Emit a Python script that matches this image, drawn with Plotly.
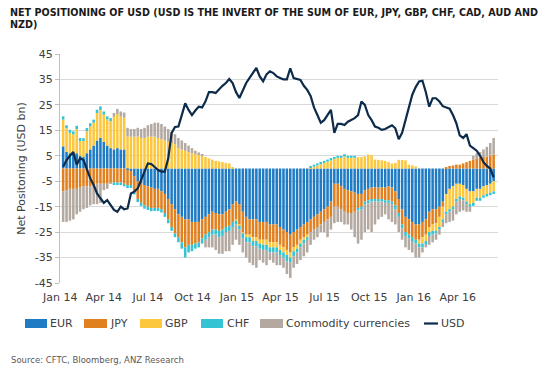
import pandas as pd
import plotly.graph_objects as go

# ---------------- data (weekly, USD bn) ----------------
WEEKS = pd.date_range("2014-01-07", periods=128, freq="7D")

EUR = [8.7, 6.5, 6, 5.5, 6, 5, 4.5, 6, 7.5, 9, 11, 12, 10.5, 9, 8, 7.5, 8, 7.5, 7.5,
       -0.5, -1, -3, -5, -6, -6.5, -7, -7.5, -8, -8, -9, -10, -12, -14, -16,
       -18, -19, -20, -20, -21, -21, -21, -20, -19, -18, -17, -17.5, -18, -18, -17, -16, -14, -13,
       -14, -17, -19, -20, -20, -20, -21, -21, -21, -22, -22, -22,
       -23, -24, -25, -26, -25, -24, -23, -22, -21, -20, -19, -18, -17, -16, -15, -13, -6, -6, -7, -8, -8.5, -9, -9.5,
       -10, -10, -8.5, -8, -7.5, -7.5, -7.5, -7.5, -7.5, -7, -7.5, -9, -12, -16, -19, -20, -21, -22, -22, -21, -20,
       -17, -16, -16, -15, -13, -10, -8, -7, -6, -6, -6.5, -8, -9, -9, -8, -8, -7, -6.5, -6, -5]

JPY = [-9, -8.5, -8, -8, -8, -7.5, -7, -7, -7, -6.5, -6, -6, -6, -6, -5.5, -5.5, -5.5, -5.5, -6,
       -6, -5.5, -6, -7, -7.5, -8, -8, -8, -7.5, -7.5, -7, -7.5, -8, -9, -9.5,
       -9, -10, -11, -10, -9, -8.5, -8, -7.5, -7, -7, -7, -6.5, -6.5, -6, -6, -6.5, -7, -7,
       -8, -8, -7, -6, -7, -7, -7, -7, -7, -7, -7, -7,
       -7, -7, -7, -7, -6, -6, -5, -5, -5, -5, -5, -5, -5, -5, -5, -6, -9, -9, -9, -9, -9, -8.5, -7.5,
       -5.5, -5, -4.5, -4.5, -4.5, -4.5, -4.5, -4.5, -5, -5.5, -5.5, -5.5, -5.5, -6, -6, -6, -6, -6, -6, -6, -6,
       -6, -6, -5.5, -4, -2, 0.5, 1, 1.2, 1.5, 1.5, 2, 2.5, 3, 3.5, 4, 4.2, 4.5, 4.7, 5, 5.5]

GBP = [10.5, 9.3, 8, 7.9, 9.5, 5.8, 6.3, 8.7, 9, 9, 10.8, 11, 10.7, 10.3, 10.6, 12.8, 13.4, 12.9, 12.5,
       12.5, 12.5, 12.5, 12.5, 12, 12, 12.5, 12.5, 12.5, 12, 11.5, 11, 10.5, 10, 9.5,
       8, 7.5, 7, 6.5, 6, 5.5, 5.3, 5, 4.5, 4, 3.5, 3, 2.8, 2.5, 2.2, 2, 0.5, -0.5,
       -0.5, -0.5, -1, -1, -1.5, -1.5, -1.5, -2, -2, -2, -2, -2,
       -2, -2, -2, -2, -1.5, -1.5, -1.5, -1, -1, 0.2, 0.7, 1.2, 1.7, 2.2, 2.7, 3.2, 3.7, 4.2, 4.2, 4.7, 4.2, 4.2, 4.2,
       4.5, 4.5, 4.8, 5.5, 5.2, 3.5, 3.4, 3.2, 3, 2.5, 2, 2.2, 3.4, 3.4, 3.2, 1.5, 1.2, 0.8, -1.5, -2.5, -2.5,
       -2, -2.5, -3, -4, -5, -7, -8, -8, -6, -5, -5, -5, -5, -4.5, -3.5, -3.5, -3.5, -3.5, -3.5, -4]

CHF = [1.3, 1.2, 1.2, 1.2, 1.3, 1.2, 1.1, 1.2, 1.3, 1.2, 1.3, 1.4, 1.2, 1.2, 1.2,
       -1, -1, -1, -1,
       -1.2, -1.2, -1.2, -1.2, -1.2, -1.3, -1.3, -1.3, -1.2, -1.2, -1.3, -1.5, -1.5, -1.5, -1.5,
       -2, -2.5, -4, -3, -2.5, -2, -2, -2, -2, -2, -2, -2, -2.5, -2.5, -2, -2, -2, -1.5,
       -1.5, -2, -2, -2, -2, -2, -2, -2, -2, -2, -2, -2,
       -2, -2, -2.5, -2, -2, -1.5, -1.5, -1.5, -1,
       0.8, 0.8, 0.8, 0.9, 0.8, 0.8, 0.9, 0.8, 0.8, 0.8, 0.9, 0.8, 0.8, 0.8,
       -1, -1, -1.2, -1.2, -1, -1, -1, -1, -1, -1, -1,
       -1.5, -1.5, -1.5, -1.5, -1.5, -1.5, -1.5, -1.5, -1.5, -1.5,
       -1.5, -1.5, -1, -1, -1, -1, -1, -1, -1, -1, -1, -1, -1, -1.2, -1.2, -1.2, -1, -1, -1, -1]

COMMODITY = [-12, -12.5, -12.5, -12, -10, -9.5, -9, -8.5, -7.5, -7.5, -8, -7.5, -2.5, -2, -0.5, 1.5, 2, 2, 2,
             3.5, 3, 3, 3.5, 3.5, 4, 4.5, 5, 5.5, 6, 6, 5.5, 5, 4.5, 4,
             4, 3.5, 3, 2.5, 2, 1.5, 1, 0.5, -3, -4, -5, -6, -6.5, -7, -7.5, -8, -7, -6,
             -6, -5.5, -6, -8, -7.5, -8.5, -4.5, -5, -6, -3, -4, -5,
             -4, -4, -5, -6, -4.5, -4.5, -5, -5, -5, -5, -4, -4, -3, -4, -7, -5, -6.5, -6, -5, -5, -4.5, -6.5, -10,
             -13, -12, -10.8, -10.3, -12, -9, -7, -6, -4.5, -6.5, -7, -6, -6, -4.5, -4.5, -4.5, -4.5, -5.5, -4, -2, -1,
             -3.5, -3, -2.5, -2, -2, -3.5, -4, -4.5, -5, -5, -4, -3, -2, 1.5, 2, 2.3, 3, 3.8, 5, 6.5]

USD = [0.7, 3.3, 5, 6.5, 1.5, 4, 3.3, -0.6, -3.9, -6.5, -9.8, -11.7, -13.5, -12.4, -14.4, -16.3, -17, -15, -16,
       -15.7, -9.8, -9.1, -7.8, -4.5, -0.6, 2, 1.8, 0.7, -0.6, -1.2, -1.2, 4, 14, 16.3, 16.5, 21, 25.6, 23, 21,
       22.8, 24.3,
       24, 26.4, 30, 30, 29.7, 31.2, 32.5, 33.6, 35.2, 33.6, 30, 27.7, 31, 33.6, 35.6, 37.5, 39.5, 36.2, 34.3,
       37, 38.2, 37.5, 36.2, 35.6,
       35, 35, 39.4, 35.5, 35, 34.8, 32.5, 30.9, 28.5, 24, 21, 18, 19, 21, 23, 14, 17.5, 17.5, 17.1, 18.4,
       19.1, 19.8,
       21, 26.3, 25, 21, 19, 16.5, 16, 15.2, 15.5, 16.2, 17, 15.8, 11.5, 14, 19, 24.3, 29, 32, 34.2, 34.5,
       30, 24.3, 27.6, 27.6, 26.3, 24.5, 24, 23.5, 21, 17.8, 13, 12, 13.5, 9, 8, 7, 5, 2.5, 1, 0, -3.5]

SERIES_NAMES = ["EUR", "JPY", "GBP", "CHF", "Commodity currencies"]
LINE_NAME = "USD"
X_TICK_DATES = ["2014-01-01", "2014-04-01", "2014-07-01", "2014-10-01", "2015-01-01",
                "2015-04-01", "2015-07-01", "2015-10-01", "2016-01-01", "2016-04-01"]
X_TICK_LABELS = ["Jan 14", "Apr 14", "Jul 14", "Oct 14", "Jan 15",
                 "Apr 15", "Jul 15", "Oct 15", "Jan 16", "Apr 16"]
Y_TICKS = [45, 35, 25, 15, 5, -5, -15, -25, -35, -45]

TITLE = "NET POSITIONING OF USD (USD IS THE INVERT OF THE SUM OF EUR, JPY, GBP, CHF, CAD, AUD AND<br>NZD)"
Y_TITLE = "Net Positoning (USD bn)"
SOURCE = "Source: CFTC, Bloomberg, ANZ Research"

# ---------------- styling ----------------
COLORS = ["#1f7bc4", "#e0801f", "#fcc73c", "#33c3d3", "#b3a9a1"]
USD_COLOR = "#0d2b4b"
FONT = "DejaVu Sans"

W, H = 550, 368
L, R, T, B = 60, 52, 54, 85
PW, PH = W - L - R, H - T - B


def px_x(px):
    return (px - L) / PW


def px_y(py):
    return (H - B - py) / PH


fig = go.Figure()
series = [EUR, JPY, GBP, CHF, COMMODITY]
for name, vals, col in zip(SERIES_NAMES, series, COLORS):
    fig.add_trace(go.Bar(x=WEEKS, y=vals, name=name, marker_color=col,
                         marker_line_width=0, showlegend=False))
fig.add_trace(go.Scatter(x=WEEKS, y=USD, name=LINE_NAME, mode="lines",
                         line=dict(color=USD_COLOR, width=2.2), showlegend=False))

shapes = []
annotations = []

# custom legend (wide swatches like the original)
swatch_px = [(25, 47), (84, 107), (140, 162), (201, 223), (260, 283)]
text_px = [48, 108, 163, 225, 284]
for (x0, x1), tx, name, col in zip(swatch_px, text_px, SERIES_NAMES, COLORS):
    shapes.append(dict(type="rect", xref="paper", yref="paper",
                       x0=px_x(x0), x1=px_x(x1), y0=px_y(328), y1=px_y(319),
                       fillcolor=col, line=dict(width=0)))
    annotations.append(dict(text=name, xref="paper", yref="paper", x=px_x(tx), y=px_y(323.5),
                            xanchor="left", yanchor="middle", showarrow=False,
                            font=dict(family=FONT, size=11, color="#404040")))
shapes.append(dict(type="line", xref="paper", yref="paper",
                   x0=px_x(424), x1=px_x(438), y0=px_y(323.5), y1=px_y(323.5),
                   line=dict(color=USD_COLOR, width=2.2)))
annotations.append(dict(text=LINE_NAME, xref="paper", yref="paper", x=px_x(439), y=px_y(323.5),
                        xanchor="left", yanchor="middle", showarrow=False,
                        font=dict(family=FONT, size=11, color="#404040")))

# title & source
annotations.append(dict(text="<b>" + TITLE.replace("<br>", "</b><br><b>") + "</b>",
                        xref="paper", yref="paper", x=px_x(8), y=px_y(5),
                        xanchor="left", yanchor="top", align="left", showarrow=False,
                        font=dict(family=FONT, size=9.6, color="#1a1a1a")))
annotations.append(dict(text=SOURCE, xref="paper", yref="paper", x=px_x(9), y=px_y(360),
                        xanchor="left", yanchor="middle", showarrow=False,
                        font=dict(family=FONT, size=8.5, color="#595959")))

fig.update_layout(
    width=W, height=H,
    margin=dict(l=L, r=R, t=T, b=B, pad=0),
    paper_bgcolor="white", plot_bgcolor="white",
    barmode="relative", bargap=0.25,
    font=dict(family=FONT, size=11, color="#404040"),
    shapes=shapes, annotations=annotations,
    xaxis=dict(type="date", range=["2013-12-31 12:00", "2016-06-23"],
               tickvals=X_TICK_DATES, ticktext=X_TICK_LABELS,
               showgrid=False, showline=False, ticks="", zeroline=False,
               ticklabelstandoff=6,
               tickfont=dict(family=FONT, size=11, color="#404040")),
    yaxis=dict(range=[-45, 45], tickvals=Y_TICKS, ticktext=[str(v) for v in Y_TICKS],
               showgrid=True, gridcolor="#d9d9d9", gridwidth=1,
               showline=True, linecolor="#bfbfbf", linewidth=1,
               ticks="outside", ticklen=4, tickcolor="#bfbfbf",
               zeroline=False,
               tickfont=dict(family=FONT, size=11, color="#404040"),
               title=dict(text=Y_TITLE, standoff=6,
                          font=dict(family=FONT, size=11, color="#404040"))),
)

fig.write_html("out.html", config={"displayModeBar": False},
               post_script="document.body.style.margin='0';document.body.style.overflow='hidden';")
